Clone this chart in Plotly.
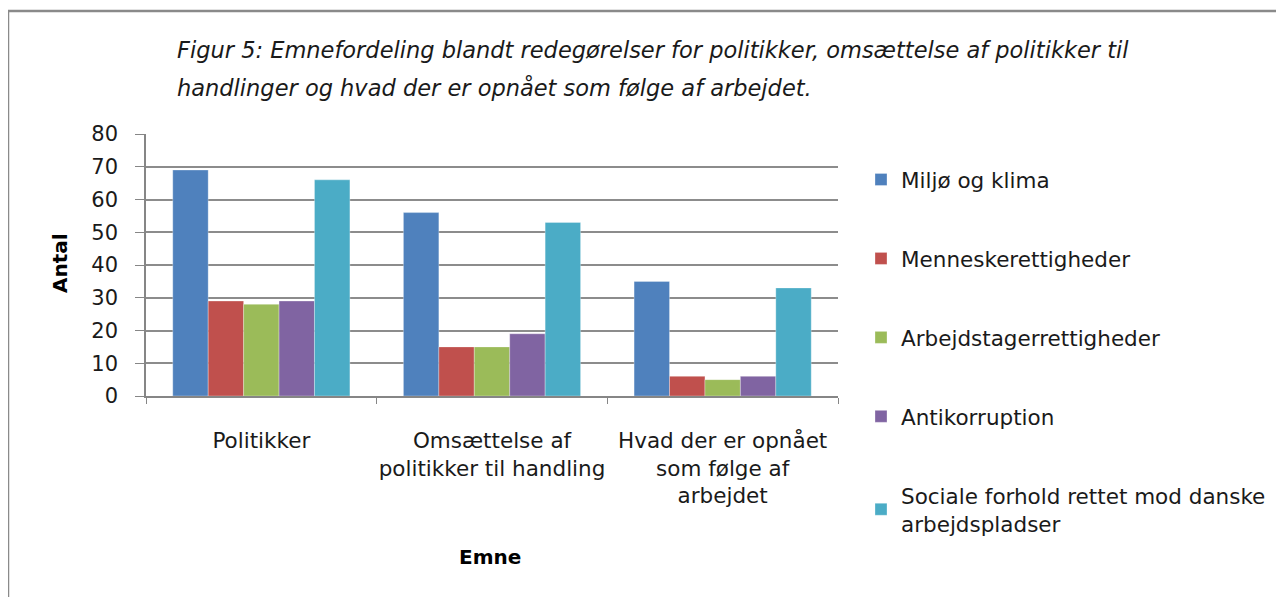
import plotly.graph_objects as go

categories = ["Politikker", "Omsættelse af<br>politikker til handling", "Hvad der er opnået<br>som følge af<br>arbejdet"]
series_names = ["Miljø og klima", "Menneskerettigheder", "Arbejdstagerrettigheder", "Antikorruption",
                "Sociale forhold rettet mod danske<br>arbejdspladser"]
miljo = [69, 56, 35]
menneske = [29, 15, 6]
arbejdstager = [28, 15, 5]
antikorruption = [29, 19, 6]
sociale = [66, 53, 33]
values = [miljo, menneske, arbejdstager, antikorruption, sociale]
colors = ["#4F81BD", "#C0504D", "#9BBB59", "#8064A2", "#4BACC6"]
y_ticks = [0, 10, 20, 30, 40, 50, 60, 70, 80]

FONT = "DejaVu Sans, Open Sans, sans-serif"
OFF = 8  # page body margin

fig = go.Figure()
for i, (name, vals, col) in enumerate(zip(series_names, values, colors)):
    fig.add_trace(go.Bar(
        x=categories, y=vals, name=name, legendgroup=f"g{i}",
        marker=dict(color=col, line=dict(color="rgba(255,255,255,0.5)", width=0.6)),
    ))

W, H = 1284 - OFF, 597 - OFF
L, R, T, B = 146 - OFF, 838 - OFF, 134 - OFF, 396 - OFF
pw, ph = R - L, B - T

def px(xp):
    return (xp - OFF - L) / pw

def py(yp):
    return (B - (yp - OFF)) / ph

fig.update_layout(
    width=W, height=H,
    margin=dict(l=L, r=W - R, t=T, b=H - B, autoexpand=False),
    paper_bgcolor="white", plot_bgcolor="white",
    font=dict(family=FONT, size=21.5, color="#1a1a1a"),
    barmode="group", bargap=0.232, bargroupgap=0,
    showlegend=True,
    legend=dict(x=px(861), y=py(159), xanchor="left", yanchor="top",
                tracegroupgap=48, font=dict(size=21.5, color="#1a1a1a"),
                itemwidth=30, bgcolor="rgba(0,0,0,0)", maxheight=700),
    xaxis=dict(type="category", showgrid=False, showline=True, linecolor="#868686", linewidth=1.5,
               ticks="outside", ticklen=6, tickcolor="#868686", tickson="boundaries",
               tickangle=0, tickfont=dict(size=21.5), ticklabelstandoff=24),
    yaxis=dict(range=[0, 80], tickvals=y_ticks, showgrid=True, gridcolor="#8c8c8c", gridwidth=1.5,
               showline=True, linecolor="#868686", linewidth=1.5, ticks="outside", ticklen=9,
               tickcolor="#868686", tickfont=dict(size=21), ticklabelstandoff=13, zeroline=False),
    shapes=[dict(type="rect", xref="paper", yref="paper", x0=px(8), y0=py(11), x1=px(1400), y1=py(700),
                 line=dict(color="#8a8a8a", width=2.5), fillcolor="rgba(0,0,0,0)", layer="above")],
    annotations=[
        dict(text="<i>Figur 5: Emnefordeling blandt redegørelser for politikker, omsættelse af politikker til</i>",
             xref="paper", yref="paper", x=px(175), y=py(50), xanchor="left", yanchor="middle",
             showarrow=False, font=dict(size=22.5, family=FONT, color="#1a1a1a")),
        dict(text="<i>handlinger og hvad der er opnået som følge af arbejdet.</i>",
             xref="paper", yref="paper", x=px(175), y=py(87), xanchor="left", yanchor="middle",
             showarrow=False, font=dict(size=22.5, family=FONT, color="#1a1a1a")),
        dict(text="<b>Antal</b>", xref="paper", yref="paper", x=px(60), y=py(263), xanchor="center",
             yanchor="middle", textangle=-90, showarrow=False, font=dict(size=20, color="#000")),
        dict(text="<b>Emne</b>", xref="paper", yref="paper", x=px(490), y=py(557), xanchor="center",
             yanchor="middle", showarrow=False, font=dict(size=20, color="#000")),
    ],
)

fig.write_html("out.html")
